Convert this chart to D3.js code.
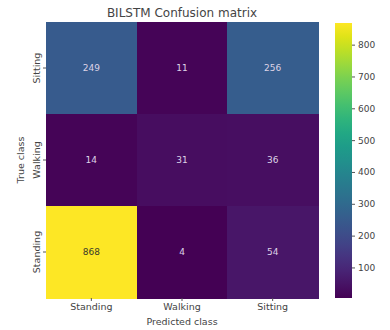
<!DOCTYPE html>
<html>
<head>
<meta charset="utf-8">
<script src="https://cdn.jsdelivr.net/npm/d3@7"></script>
<style>
  html, body { margin: 0; padding: 0; background: #fff; }
  svg { display: block; font-family: "DejaVu Sans", sans-serif; }
</style>
</head>
<body>
<svg id="chart" width="390" height="330"></svg>
<script>
// Confusion matrix of the BiLSTM classifier
const trueClasses = ["Sitting", "Walking", "Standing"];
const predictedClasses = ["Standing", "Walking", "Sitting"];
const matrixValues = [
  [249, 11, 256],
  [14, 31, 36],
  [868, 4, 54]
];
const colorbarTicks = [100, 200, 300, 400, 500, 600, 700, 800];
const titleText = "BILSTM Confusion matrix";

const svg = d3.select("#chart");
const plot = { left: 46, top: 22, width: 272, height: 276 };

const allValues = matrixValues.flat();
const vmin = d3.min(allValues), vmax = d3.max(allValues);
const color = d3.scaleSequential(d3.interpolateViridis).domain([vmin, vmax]);

const x = d3.scaleBand().domain(predictedClasses).range([plot.left, plot.left + plot.width]);
const y = d3.scaleBand().domain(trueClasses).range([plot.top, plot.top + plot.height]);

const cells = [];
trueClasses.forEach((t, i) => predictedClasses.forEach((p, j) => {
  cells.push({ t, p, v: matrixValues[i][j] });
}));

svg.append("g").attr("shape-rendering", "crispEdges")
  .selectAll("rect").data(cells).join("rect")
  .attr("x", d => x(d.p)).attr("y", d => y(d.t))
  .attr("width", x.bandwidth() + 0.5).attr("height", y.bandwidth() + 0.5)
  .attr("fill", d => color(d.v));

svg.append("g").selectAll("text").data(cells).join("text")
  .attr("x", d => x(d.p) + x.bandwidth() / 2)
  .attr("y", d => y(d.t) + y.bandwidth() / 2)
  .attr("text-anchor", "middle").attr("dominant-baseline", "central")
  .attr("font-size", 9)
  .attr("fill", d => (d.v - vmin) / (vmax - vmin) > 0.6 ? "#3a3a2a" : "#ddd3e6")
  .text(d => d.v);

// Axes
const xAxis = svg.append("g")
  .attr("transform", `translate(0,${plot.top + plot.height})`)
  .call(d3.axisBottom(x).tickSize(3).tickPadding(2));
xAxis.select(".domain").remove();
xAxis.selectAll("text").attr("font-size", 9.5).attr("fill", "#444").attr("font-family", "DejaVu Sans");
xAxis.selectAll("line").attr("stroke", "#555");

const yAxis = svg.append("g")
  .attr("transform", `translate(${plot.left},0)`)
  .call(d3.axisLeft(y).tickSize(3).tickPadding(3));
yAxis.select(".domain").remove();
yAxis.selectAll("line").attr("stroke", "#555");
yAxis.selectAll("text")
  .attr("font-size", 9.5).attr("fill", "#444").attr("font-family", "DejaVu Sans")
  .attr("text-anchor", "middle")
  .attr("transform", "rotate(-90)")
  .attr("x", 0).attr("dy", 0)
  .attr("y", -6);

svg.append("text")
  .attr("x", plot.left + plot.width / 2).attr("y", 325)
  .attr("text-anchor", "middle").attr("font-size", 9.5).attr("fill", "#444")
  .text("Predicted class");

svg.append("text")
  .attr("transform", `translate(24,${plot.top + plot.height / 2}) rotate(-90)`)
  .attr("text-anchor", "middle").attr("font-size", 9.5).attr("fill", "#444")
  .text("True class");

svg.append("text")
  .attr("x", plot.left + plot.width / 2).attr("y", 17)
  .attr("text-anchor", "middle").attr("font-size", 12).attr("fill", "#444")
  .text(titleText);

// Colorbar
const cb = { x: 335, top: 23, width: 17, height: 275 };
const cbScale = d3.scaleLinear().domain([vmin, vmax]).range([cb.top + cb.height, cb.top]);
const defs = svg.append("defs");
const grad = defs.append("linearGradient").attr("id", "cbgrad")
  .attr("x1", 0).attr("y1", 1).attr("x2", 0).attr("y2", 0);
d3.range(0, 1.0001, 0.05).forEach(s => {
  grad.append("stop").attr("offset", s).attr("stop-color", d3.interpolateViridis(s));
});
svg.append("rect").attr("x", cb.x).attr("y", cb.top)
  .attr("width", cb.width).attr("height", cb.height).attr("fill", "url(#cbgrad)");

const cbAxis = svg.append("g")
  .attr("transform", `translate(${cb.x + cb.width},0)`)
  .call(d3.axisRight(cbScale).tickValues(colorbarTicks).tickSize(3).tickPadding(3));
cbAxis.select(".domain").remove();
cbAxis.selectAll("line").attr("stroke", "#555");
cbAxis.selectAll("text").attr("font-size", 9).attr("fill", "#444").attr("font-family", "DejaVu Sans");
</script>
</body>
</html>
